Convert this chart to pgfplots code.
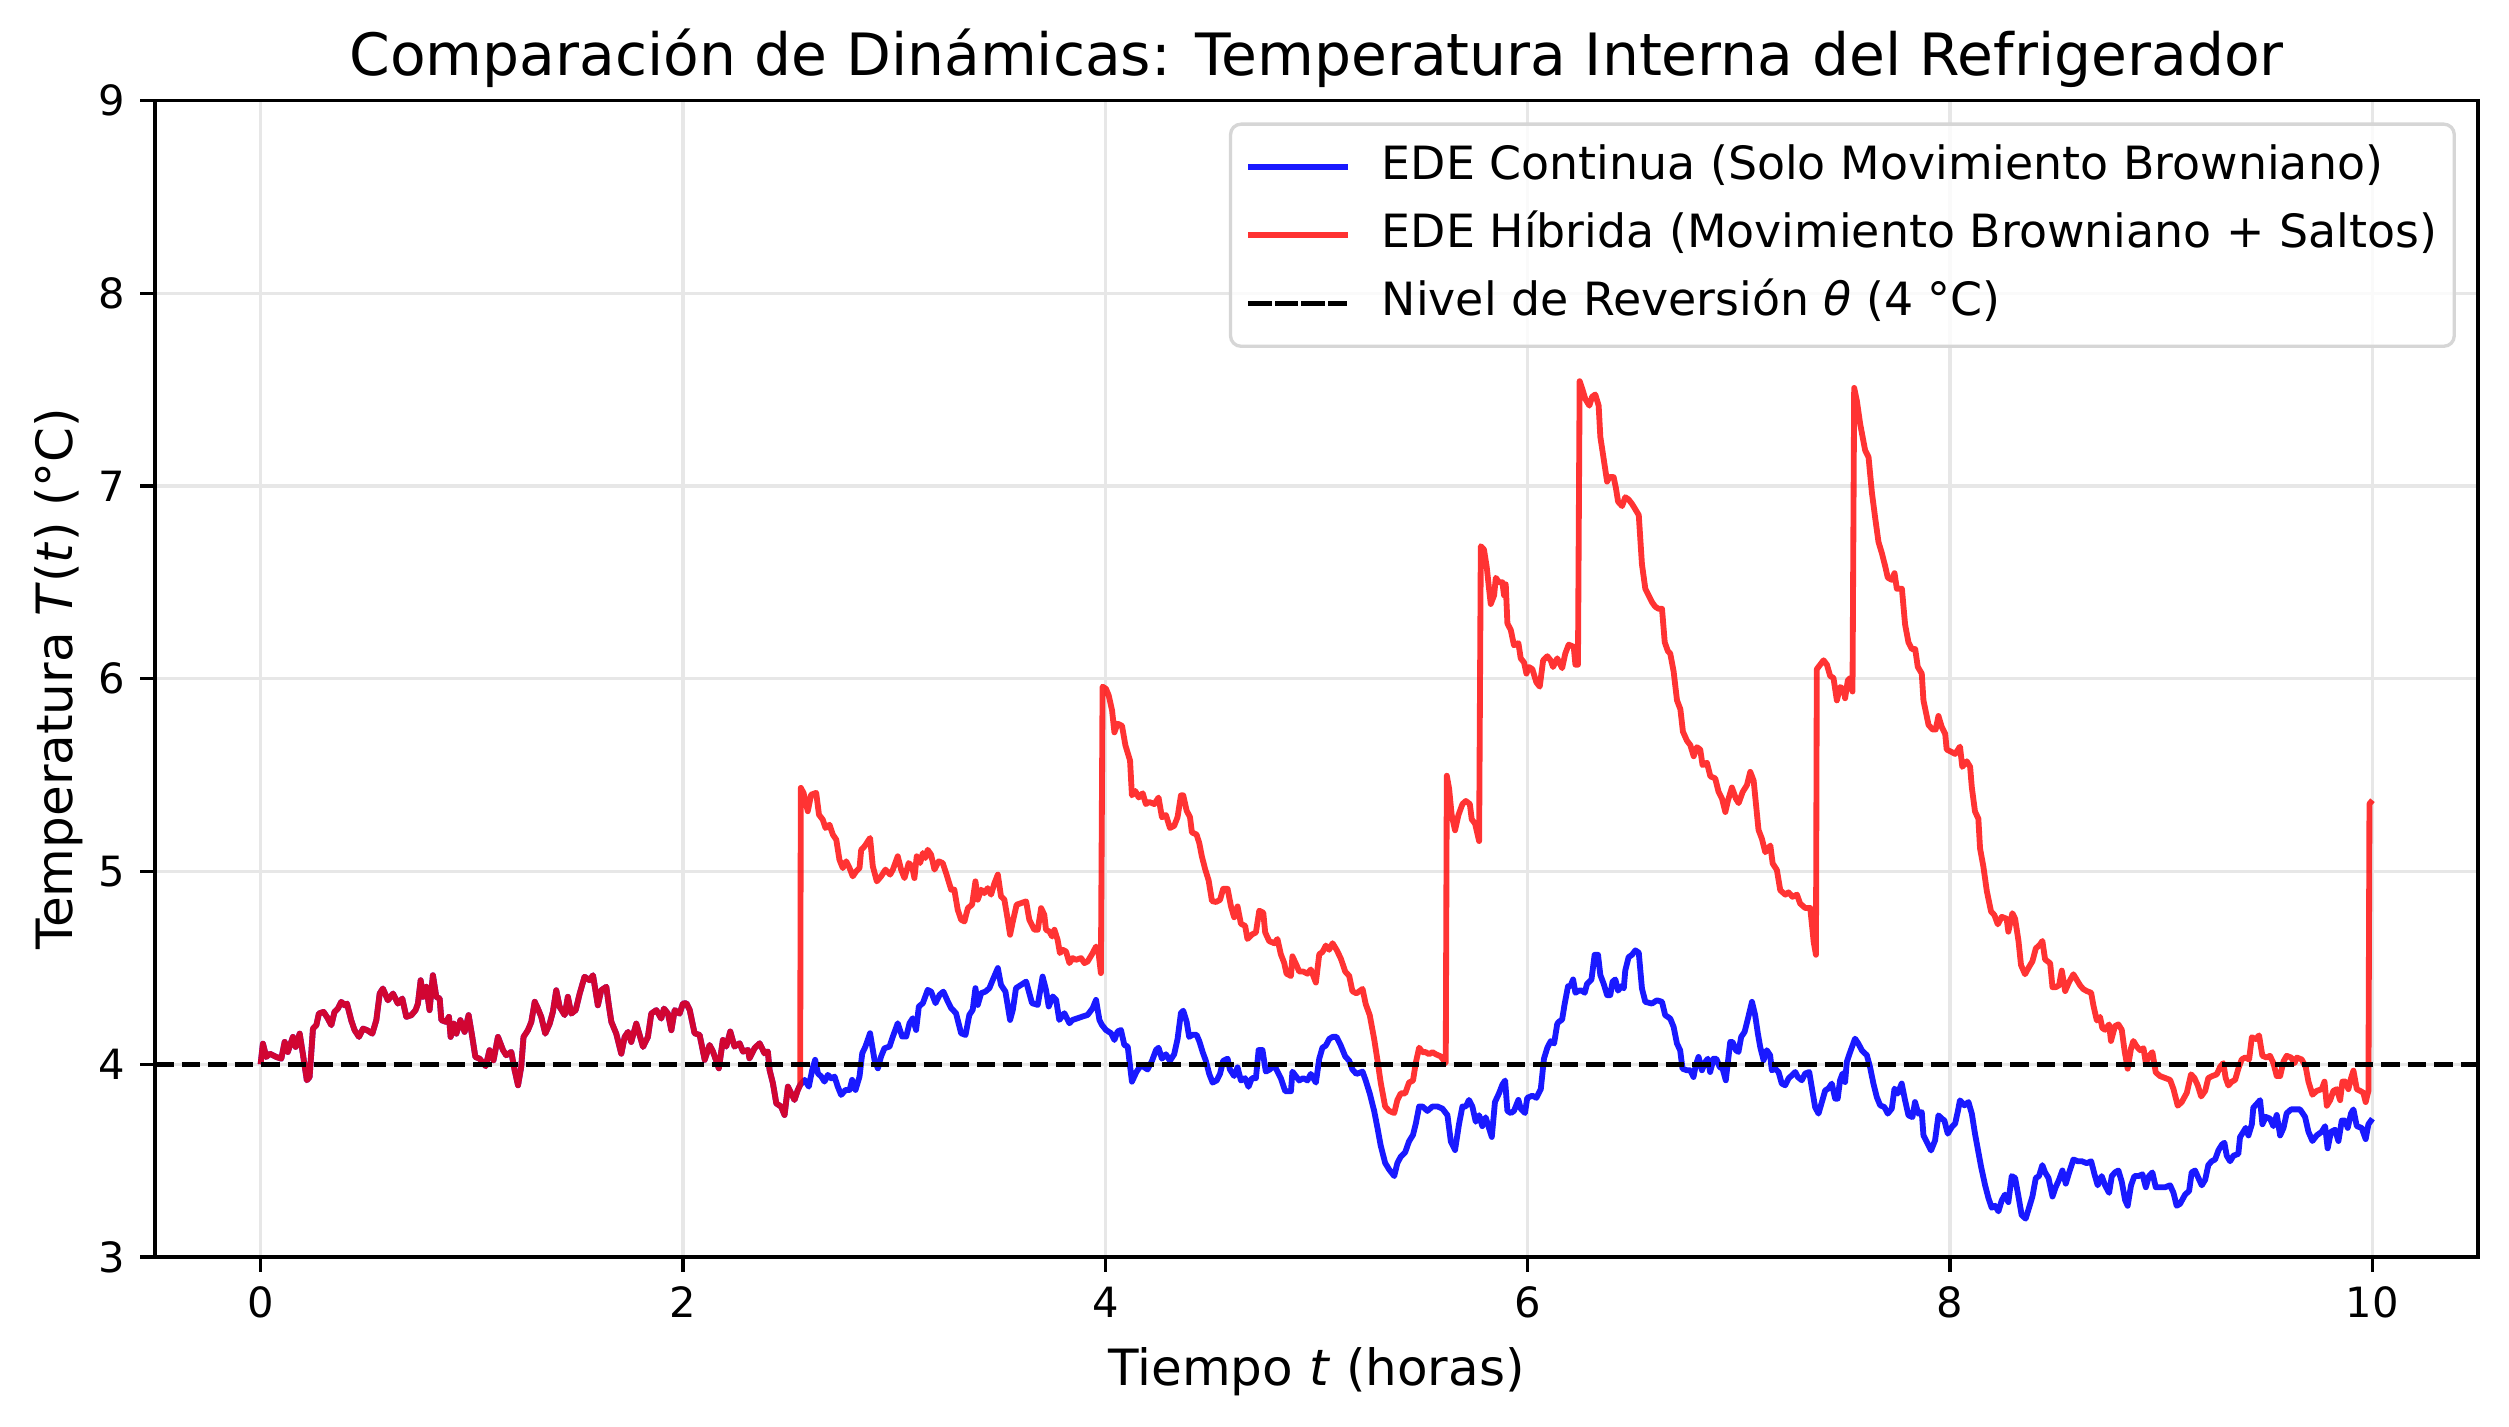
\documentclass[border=0pt]{standalone}
\usepackage{fontspec}
\setmainfont{DejaVu Sans}
\usepackage{pgfplots}
\pgfplotsset{compat=1.18}
\definecolor{gridc}{RGB}{231,231,231}
\definecolor{legedge}{RGB}{214,214,214}
\begin{document}
\begin{tikzpicture}
\begin{axis}[
  at={(0,0)}, anchor=south west,
  scale only axis, width=557.5pt, height=277.56pt,
  xmin=-0.5, xmax=10.5, ymin=3, ymax=9,
  xtick={0,2,4,6,8,10}, ytick={3,4,5,6,7,8,9},
  tick pos=left, tick align=outside, major tick length=3.5pt,
  every tick/.style={black, line width=0.8pt},
  axis line style={line width=0.8pt},
  grid=major, major grid style={gridc, line width=0.8pt},
  /pgf/number format/assume math mode=true,
  tick label style={font=\fontsize{10}{12}\selectfont},
  xticklabel style={anchor=north, inner sep=3.5pt},
  yticklabel style={anchor=east, inner sep=3.5pt},
  title={Comparación de Dinámicas: Temperatura Interna del Refrigerador},
  title style={font=\fontsize{14}{17}\selectfont, at={(axis description cs:0.5,1)}, anchor=base, inner sep=0pt},
  xlabel={Tiempo \textit{t} (horas)},
  xlabel style={font=\fontsize{12}{14}\selectfont, at={(axis description cs:0.5,0)}, anchor=north, inner sep=0pt, yshift=-21.5pt},
  ylabel={Temperatura \textit{T}(\textit{t}) (°C)},
  ylabel style={font=\fontsize{12}{14}\selectfont, at={(axis description cs:-0.0307,0.5)}, anchor=south, inner sep=0pt},
  legend cell align=left,
  legend image code/.code={\draw[#1, line cap=rect] (0pt,0pt) -- (22.5pt,0pt);},
  legend style={at={(0.9905,0.981)}, anchor=north east, draw=legedge, line width=0.8pt,
    rounded corners=2.5pt, fill=white, fill opacity=0.8, text opacity=1,
    font=\fontsize{11}{13}\selectfont, inner xsep=4.2pt, inner ysep=4.9pt,
    row sep=5.7pt, column sep=8.2pt,
    nodes={inner sep=0pt, text height=8.3pt, text depth=2.4pt}},
]
\addplot[color=blue, opacity=0.9, line width=1.4pt, line join=round] coordinates {
(0,4.000) (0.011,4.107) (0.027,4.038) (0.043,4.055) (0.074,4.038) (0.098,4.029) (0.114,4.116) (0.129,4.064) (0.153,4.142) (0.166,4.090) (0.185,4.159) (0.200,4.055) (0.219,3.917) (0.232,3.934) (0.248,4.185) (0.264,4.203) (0.276,4.263) (0.298,4.272) (0.314,4.246) (0.335,4.203) (0.350,4.272) (0.366,4.289) (0.382,4.324) (0.398,4.306) (0.409,4.315) (0.429,4.229) (0.445,4.177) (0.466,4.142) (0.485,4.185) (0.504,4.177) (0.529,4.159) (0.548,4.229) (0.564,4.367) (0.579,4.393) (0.603,4.332) (0.627,4.367) (0.650,4.315) (0.671,4.341) (0.690,4.246) (0.714,4.255) (0.734,4.281) (0.745,4.315) (0.758,4.436) (0.769,4.350) (0.785,4.402) (0.800,4.281) (0.816,4.462) (0.832,4.350) (0.848,4.341) (0.856,4.229) (0.879,4.220) (0.892,4.246) (0.900,4.142) (0.914,4.211) (0.927,4.159) (0.946,4.229) (0.966,4.168) (0.985,4.255) (1.001,4.151) (1.017,4.038) (1.037,4.029) (1.066,3.990) (1.084,4.073) (1.103,4.021) (1.124,4.142) (1.148,4.073) (1.163,4.047) (1.187,4.064) (1.203,3.969) (1.219,3.891) (1.234,3.986) (1.245,4.142) (1.266,4.177) (1.282,4.220) (1.298,4.324) (1.313,4.289) (1.329,4.246) (1.348,4.159) (1.369,4.211) (1.384,4.272) (1.400,4.384) (1.416,4.298) (1.440,4.255) (1.455,4.350) (1.471,4.263) (1.492,4.281) (1.511,4.367) (1.534,4.454) (1.558,4.436) (1.574,4.462) (1.597,4.306) (1.613,4.384) (1.637,4.402) (1.650,4.298) (1.661,4.220) (1.684,4.159) (1.708,4.055) (1.724,4.142) (1.740,4.168) (1.755,4.116) (1.779,4.211) (1.795,4.151) (1.811,4.090) (1.834,4.142) (1.850,4.263) (1.874,4.281) (1.897,4.237) (1.910,4.289) (1.929,4.263) (1.945,4.177) (1.961,4.281) (1.984,4.263) (2.000,4.315) (2.016,4.317) (2.032,4.282) (2.055,4.161) (2.079,4.152) (2.103,4.023) (2.126,4.100) (2.142,4.066) (2.170,3.979) (2.189,4.126) (2.205,4.092) (2.224,4.170) (2.244,4.092) (2.268,4.109) (2.284,4.066) (2.308,4.074) (2.315,4.031) (2.339,4.083) (2.363,4.109) (2.386,4.057) (2.402,4.066) (2.410,3.971) (2.426,3.901) (2.442,3.797) (2.465,3.780) (2.481,3.737) (2.497,3.884) (2.513,3.849) (2.528,3.815) (2.544,3.867) (2.555,3.893)
(2.576,3.919) (2.596,3.884) (2.612,3.971) (2.626,4.023) (2.639,3.953) (2.655,3.936) (2.670,3.910) (2.686,3.945) (2.702,3.927) (2.718,3.936) (2.733,3.884) (2.749,3.841) (2.770,3.867) (2.789,3.867) (2.801,3.919) (2.817,3.867) (2.836,3.936) (2.849,4.057) (2.864,4.092) (2.886,4.161) (2.907,4.023) (2.923,3.979) (2.938,4.040) (2.954,4.083) (2.978,4.092) (2.994,4.144) (3.017,4.213) (3.038,4.144) (3.057,4.144) (3.073,4.213) (3.088,4.239) (3.104,4.178) (3.117,4.300) (3.136,4.317) (3.159,4.386) (3.175,4.377) (3.196,4.317) (3.215,4.360) (3.233,4.377) (3.254,4.326) (3.270,4.291) (3.293,4.265) (3.317,4.161) (3.338,4.152) (3.356,4.256) (3.372,4.282) (3.385,4.395) (3.396,4.308) (3.412,4.369) (3.432,4.377) (3.451,4.395) (3.467,4.438) (3.491,4.499) (3.506,4.412) (3.527,4.377) (3.549,4.230) (3.562,4.282) (3.577,4.395) (3.601,4.412) (3.625,4.429) (3.640,4.369) (3.653,4.317) (3.680,4.308) (3.703,4.455) (3.719,4.386) (3.732,4.300) (3.751,4.352) (3.767,4.334) (3.782,4.230) (3.806,4.265) (3.830,4.213) (3.845,4.230) (3.869,4.239) (3.893,4.248) (3.916,4.256) (3.940,4.291) (3.956,4.334) (3.972,4.230) (3.984,4.204) (4.003,4.178) (4.027,4.161) (4.043,4.126) (4.058,4.170) (4.074,4.178) (4.090,4.100) (4.106,4.092) (4.126,3.910) (4.148,3.962) (4.169,3.995) (4.185,3.984) (4.200,3.973) (4.221,4.018) (4.240,4.074) (4.252,4.086) (4.268,4.029) (4.287,4.052) (4.306,4.018) (4.326,4.052) (4.342,4.131) (4.358,4.266) (4.369,4.278) (4.385,4.221) (4.397,4.142) (4.413,4.153) (4.432,4.153) (4.445,4.120) (4.461,4.063) (4.476,4.018) (4.492,3.950) (4.508,3.905) (4.527,3.916) (4.543,3.950) (4.558,4.018) (4.579,4.029) (4.590,3.973) (4.610,3.939) (4.626,3.984) (4.642,3.916) (4.662,3.928) (4.678,3.883) (4.694,3.928) (4.713,3.928) (4.726,4.074) (4.744,4.074) (4.760,3.962) (4.779,3.973) (4.800,3.995) (4.815,3.962) (4.831,3.928) (4.852,3.860) (4.879,3.860) (4.886,3.962) (4.902,3.939) (4.918,3.916) (4.937,3.928) (4.957,3.916) (4.973,3.950) (4.997,3.905) (5.013,4.029) (5.028,4.086) (5.044,4.097) (5.060,4.131) (5.076,4.142) (5.095,4.142) (5.115,4.097) (5.136,4.041) (5.155,4.018) (5.170,3.973) (5.189,3.950) (5.218,3.962) (5.233,3.916) (5.252,3.849) (5.273,3.758) (5.289,3.668) (5.304,3.578) (5.325,3.488) (5.344,3.454) (5.368,3.420) (5.383,3.488) (5.399,3.521) (5.420,3.544) (5.438,3.600) (5.457,3.634) (5.470,3.691) (5.486,3.781) (5.502,3.781) (5.525,3.758) (5.549,3.781) (5.573,3.781) (5.596,3.770) (5.620,3.736) (5.636,3.600) (5.656,3.555) (5.675,3.691) (5.691,3.781) (5.707,3.781) (5.722,3.815) (5.738,3.781) (5.754,3.702) (5.770,3.736) (5.785,3.679) (5.801,3.725) (5.817,3.668) (5.830,3.623) (5.845,3.804) (5.864,3.849) (5.880,3.894) (5.893,3.916) (5.904,3.758) (5.920,3.747) (5.935,3.758) (5.956,3.815) (5.967,3.770) (5.987,3.747) (5.998,3.826) (6.022,3.837) (6.041,3.826) (6.062,3.871) (6.077,4.029) (6.093,4.086) (6.109,4.120) (6.125,4.108) (6.140,4.210) (6.147,4.220) (6.163,4.232) (6.175,4.313) (6.191,4.405) (6.202,4.405) (6.215,4.440) (6.226,4.371) (6.242,4.382) (6.257,4.382) (6.270,4.371) (6.281,4.417) (6.302,4.440) (6.317,4.568) (6.333,4.568) (6.344,4.463) (6.360,4.417) (6.376,4.359) (6.391,4.359) (6.402,4.429) (6.415,4.440) (6.428,4.382) (6.443,4.405) (6.455,4.394) (6.462,4.486) (6.478,4.556) (6.494,4.568) (6.510,4.591) (6.526,4.579) (6.541,4.394) (6.557,4.324) (6.588,4.315) (6.612,4.332) (6.636,4.324) (6.651,4.255) (6.675,4.237) (6.691,4.194) (6.707,4.107) (6.722,4.073) (6.733,3.977) (6.754,3.969) (6.770,3.969) (6.785,3.934) (6.796,3.995) (6.809,4.038) (6.825,3.969) (6.841,4.012) (6.853,4.029) (6.864,3.960) (6.880,4.029) (6.893,4.029) (6.909,3.986) (6.923,3.977) (6.938,3.917) (6.948,4.012) (6.959,4.116) (6.970,4.116) (6.986,4.073) (6.998,4.064) (7.011,4.142) (7.027,4.168) (7.043,4.237) (7.062,4.324) (7.077,4.255) (7.090,4.159) (7.101,4.090) (7.117,4.021) (7.132,4.073) (7.148,4.047) (7.156,3.969) (7.172,3.977) (7.188,3.960) (7.203,3.900) (7.219,3.891) (7.235,3.926) (7.251,3.943) (7.267,3.960) (7.279,3.934) (7.298,3.917) (7.314,3.952) (7.333,3.960) (7.345,3.882) (7.361,3.778) (7.377,3.744) (7.393,3.804) (7.409,3.865) (7.424,3.874) (7.440,3.900) (7.456,3.822) (7.468,3.822) (7.479,3.917) (7.491,3.952) (7.503,3.908) (7.511,4.012) (7.527,4.064) (7.550,4.133) (7.566,4.107) (7.582,4.073) (7.606,4.047) (7.621,3.986) (7.637,3.900) (7.653,3.830) (7.669,3.787) (7.689,3.778) (7.705,3.744) (7.724,3.770) (7.737,3.874) (7.752,3.848) (7.771,3.900) (7.787,3.813) (7.803,3.735) (7.822,3.726) (7.834,3.804) (7.850,3.744) (7.866,3.752) (7.874,3.631) (7.894,3.588) (7.910,3.553) (7.929,3.605) (7.945,3.735) (7.961,3.718) (7.973,3.709) (7.989,3.640) (8.008,3.674) (8.024,3.692) (8.036,3.752) (8.047,3.813) (8.068,3.787) (8.087,3.804) (8.103,3.744) (8.118,3.640) (8.147,3.468) (8.166,3.372) (8.182,3.305) (8.197,3.256) (8.213,3.266) (8.229,3.237) (8.245,3.295) (8.260,3.324) (8.276,3.285) (8.292,3.420) (8.308,3.410) (8.324,3.314) (8.339,3.218) (8.358,3.199) (8.374,3.256) (8.390,3.314) (8.406,3.410) (8.421,3.420) (8.437,3.477) (8.450,3.439) (8.466,3.410) (8.485,3.314) (8.500,3.362) (8.516,3.401) (8.532,3.449) (8.548,3.381) (8.564,3.439) (8.584,3.506) (8.605,3.497) (8.624,3.497) (8.647,3.487) (8.668,3.497) (8.684,3.429) (8.699,3.372) (8.718,3.420) (8.734,3.372) (8.753,3.333) (8.766,3.420) (8.781,3.439) (8.797,3.449) (8.813,3.391) (8.829,3.295) (8.841,3.266) (8.857,3.372) (8.873,3.420) (8.892,3.420) (8.911,3.429) (8.927,3.362) (8.942,3.420) (8.958,3.439) (8.974,3.362) (8.994,3.362) (9.018,3.362) (9.042,3.372) (9.058,3.333) (9.073,3.266) (9.089,3.276) (9.113,3.324) (9.132,3.343) (9.144,3.439) (9.160,3.449) (9.176,3.410) (9.192,3.372) (9.208,3.401) (9.223,3.477) (9.239,3.497) (9.255,3.506) (9.271,3.554) (9.287,3.583) (9.299,3.593) (9.310,3.526) (9.326,3.497) (9.342,3.526) (9.365,3.535) (9.373,3.622) (9.389,3.650) (9.400,3.670) (9.413,3.631) (9.429,3.689) (9.436,3.775) (9.452,3.794) (9.468,3.814) (9.479,3.689) (9.495,3.727) (9.515,3.718) (9.531,3.679) (9.547,3.737) (9.563,3.631) (9.579,3.670) (9.594,3.746) (9.615,3.766) (9.634,3.766) (9.657,3.766) (9.681,3.727) (9.697,3.650) (9.716,3.602) (9.736,3.631) (9.760,3.650) (9.776,3.679) (9.788,3.564) (9.804,3.650) (9.823,3.660) (9.839,3.602) (9.855,3.708) (9.871,3.708) (9.883,3.670) (9.899,3.746) (9.910,3.766) (9.926,3.679) (9.949,3.670) (9.968,3.612) (9.981,3.689) (10.000,3.718)
};
\addlegendentry{EDE Continua (Solo Movimiento Browniano)}
\addplot[color=red, opacity=0.8, line width=1.4pt, line join=round] coordinates {
(0,4.000) (0.011,4.107) (0.027,4.038) (0.043,4.055) (0.074,4.038) (0.098,4.029) (0.114,4.116) (0.129,4.064) (0.153,4.142) (0.166,4.090) (0.185,4.159) (0.200,4.055) (0.219,3.917) (0.232,3.934) (0.248,4.185) (0.264,4.203) (0.276,4.263) (0.298,4.272) (0.314,4.246) (0.335,4.203) (0.350,4.272) (0.366,4.289) (0.382,4.324) (0.398,4.306) (0.409,4.315) (0.429,4.229) (0.445,4.177) (0.466,4.142) (0.485,4.185) (0.504,4.177) (0.529,4.159) (0.548,4.229) (0.564,4.367) (0.579,4.393) (0.603,4.332) (0.627,4.367) (0.650,4.315) (0.671,4.341) (0.690,4.246) (0.714,4.255) (0.734,4.281) (0.745,4.315) (0.758,4.436) (0.769,4.350) (0.785,4.402) (0.800,4.281) (0.816,4.462) (0.832,4.350) (0.848,4.341) (0.856,4.229) (0.879,4.220) (0.892,4.246) (0.900,4.142) (0.914,4.211) (0.927,4.159) (0.946,4.229) (0.966,4.168) (0.985,4.255) (1.001,4.151) (1.017,4.038) (1.037,4.029) (1.066,3.990) (1.084,4.073) (1.103,4.021) (1.124,4.142) (1.148,4.073) (1.163,4.047) (1.187,4.064) (1.203,3.969) (1.219,3.891) (1.234,3.986) (1.245,4.142) (1.266,4.177) (1.282,4.220) (1.298,4.324) (1.313,4.289) (1.329,4.246) (1.348,4.159) (1.369,4.211) (1.384,4.272) (1.400,4.384) (1.416,4.298) (1.440,4.255) (1.455,4.350) (1.471,4.263) (1.492,4.281) (1.511,4.367) (1.534,4.454) (1.558,4.436) (1.574,4.462) (1.597,4.306) (1.613,4.384) (1.637,4.402) (1.650,4.298) (1.661,4.220) (1.684,4.159) (1.708,4.055) (1.724,4.142) (1.740,4.168) (1.755,4.116) (1.779,4.211) (1.795,4.151) (1.811,4.090) (1.834,4.142) (1.850,4.263) (1.874,4.281) (1.897,4.237) (1.910,4.289) (1.929,4.263) (1.945,4.177) (1.961,4.281) (1.984,4.263) (2.000,4.315) (2.016,4.317) (2.032,4.282) (2.055,4.161) (2.079,4.152) (2.103,4.023) (2.126,4.100) (2.142,4.066) (2.170,3.979) (2.189,4.126) (2.205,4.092) (2.224,4.170) (2.244,4.092) (2.268,4.109) (2.284,4.066) (2.308,4.074) (2.315,4.031) (2.339,4.083) (2.363,4.109) (2.386,4.057) (2.402,4.066) (2.410,3.971) (2.426,3.901) (2.442,3.797) (2.465,3.780) (2.481,3.737) (2.497,3.884) (2.513,3.849) (2.528,3.815) (2.544,3.867) (2.555,3.893)
(2.558,5.434) (2.571,5.408) (2.591,5.313) (2.607,5.399) (2.631,5.408) (2.644,5.295) (2.662,5.269) (2.675,5.226) (2.694,5.243) (2.710,5.191) (2.726,5.165) (2.741,5.061) (2.757,5.018) (2.773,5.053) (2.789,5.018) (2.804,4.975) (2.820,5.001) (2.836,5.018) (2.844,5.113) (2.860,5.131) (2.886,5.174) (2.899,5.027) (2.918,4.949) (2.938,4.975) (2.959,5.010) (2.981,4.984) (2.994,5.010) (3.017,5.079) (3.033,5.010) (3.049,4.966) (3.069,5.044) (3.085,5.027) (3.096,4.966) (3.107,5.079) (3.123,5.044) (3.136,5.096) (3.148,5.070) (3.159,5.113) (3.175,5.087) (3.191,5.010) (3.211,5.053) (3.230,5.044) (3.246,4.992) (3.270,4.906) (3.285,4.906) (3.301,4.802) (3.317,4.750) (3.333,4.741) (3.349,4.810) (3.369,4.828) (3.385,4.949) (3.396,4.854) (3.412,4.906) (3.427,4.888) (3.443,4.914) (3.459,4.880) (3.475,4.940) (3.491,4.984) (3.506,4.871) (3.522,4.854) (3.538,4.750) (3.549,4.672) (3.562,4.741) (3.580,4.828) (3.601,4.836) (3.625,4.845) (3.640,4.750) (3.664,4.698) (3.680,4.698) (3.696,4.810) (3.711,4.776) (3.719,4.698) (3.735,4.689) (3.748,4.663) (3.759,4.698) (3.774,4.646) (3.785,4.577) (3.798,4.594) (3.814,4.585) (3.830,4.525) (3.845,4.551) (3.861,4.542) (3.885,4.551) (3.901,4.525) (3.916,4.533) (3.940,4.577) (3.956,4.611) (3.968,4.577) (3.979,4.473)
(3.987,5.959) (4.003,5.948) (4.016,5.914) (4.032,5.835) (4.043,5.722) (4.058,5.767) (4.079,5.756) (4.095,5.655) (4.117,5.576) (4.126,5.395) (4.142,5.418) (4.158,5.384) (4.177,5.406) (4.192,5.350) (4.208,5.361) (4.232,5.350) (4.252,5.384) (4.268,5.282) (4.287,5.293) (4.306,5.226) (4.326,5.237) (4.342,5.282) (4.358,5.395) (4.369,5.395) (4.385,5.316) (4.401,5.282) (4.410,5.203) (4.432,5.192) (4.445,5.147) (4.457,5.079) (4.473,5.011) (4.489,4.955) (4.505,4.847) (4.524,4.842) (4.543,4.853) (4.558,4.910) (4.579,4.910) (4.595,4.819) (4.610,4.763) (4.626,4.819) (4.642,4.729) (4.662,4.718) (4.673,4.650) (4.694,4.673) (4.713,4.684) (4.729,4.797) (4.748,4.786) (4.757,4.684) (4.776,4.639) (4.800,4.628) (4.815,4.650) (4.831,4.571) (4.847,4.526) (4.858,4.470) (4.879,4.458) (4.886,4.560) (4.905,4.515) (4.918,4.481) (4.937,4.481) (4.957,4.470) (4.973,4.492) (4.997,4.424) (5.013,4.571) (5.028,4.582) (5.044,4.616) (5.060,4.594) (5.076,4.628) (5.095,4.594) (5.115,4.549) (5.136,4.481) (5.155,4.458) (5.170,4.379) (5.189,4.368) (5.218,4.391) (5.233,4.312) (5.252,4.255) (5.273,4.131) (5.289,4.018) (5.304,3.905) (5.325,3.781) (5.344,3.758) (5.368,3.747) (5.383,3.815) (5.399,3.849) (5.420,3.849) (5.438,3.905) (5.457,3.916) (5.470,4.007) (5.486,4.086) (5.502,4.063) (5.517,4.063) (5.533,4.052) (5.549,4.063) (5.565,4.052) (5.588,4.041) (5.612,4.007)
(5.617,5.497) (5.628,5.429) (5.640,5.293) (5.656,5.214) (5.672,5.293) (5.691,5.350) (5.707,5.366) (5.726,5.350) (5.735,5.271) (5.751,5.248) (5.770,5.158)
(5.778,6.688) (5.793,6.670) (5.806,6.580) (5.817,6.467) (5.825,6.388) (5.841,6.433) (5.849,6.524) (5.864,6.501) (5.880,6.501) (5.888,6.433) (5.896,6.490) (5.904,6.287) (5.920,6.253) (5.935,6.174) (5.956,6.185) (5.967,6.106) (5.983,6.084) (5.994,6.027) (6.006,6.061) (6.022,6.050) (6.041,5.982) (6.057,5.959) (6.073,6.095) (6.093,6.117) (6.109,6.095) (6.120,6.061) (6.140,6.106) (6.163,6.055) (6.178,6.131) (6.194,6.177) (6.218,6.166) (6.226,6.073) (6.238,6.073)
(6.246,7.544) (6.257,7.509) (6.273,7.451) (6.292,7.417) (6.305,7.463) (6.320,7.475) (6.336,7.417) (6.344,7.255) (6.360,7.139) (6.376,7.023) (6.387,7.046) (6.407,7.046) (6.418,6.988) (6.428,6.919) (6.447,6.896) (6.462,6.942) (6.478,6.930) (6.494,6.907) (6.507,6.884) (6.526,6.849) (6.541,6.594) (6.557,6.467) (6.573,6.432) (6.589,6.397) (6.604,6.374) (6.620,6.363) (6.636,6.363) (6.649,6.189) (6.664,6.143) (6.675,6.131) (6.691,6.038) (6.707,5.888) (6.723,5.842) (6.735,5.726) (6.754,5.679) (6.770,5.656) (6.786,5.598) (6.801,5.645) (6.817,5.633) (6.828,5.552) (6.849,5.564) (6.865,5.494) (6.888,5.483) (6.904,5.413) (6.920,5.378) (6.936,5.309) (6.948,5.367) (6.967,5.436) (6.986,5.378) (6.999,5.355) (7.018,5.413) (7.038,5.448) (7.054,5.517) (7.070,5.471) (7.093,5.216) (7.109,5.170) (7.125,5.100) (7.149,5.135) (7.160,5.042) (7.180,5.008) (7.196,4.903) (7.220,4.880) (7.235,4.892) (7.254,4.869) (7.275,4.880) (7.290,4.834) (7.314,4.811) (7.338,4.811) (7.354,4.637) (7.365,4.568)
(7.369,6.050) (7.385,6.073) (7.401,6.096) (7.417,6.073) (7.432,6.015) (7.448,6.004) (7.464,5.888) (7.480,5.957) (7.496,5.946) (7.503,5.899) (7.516,5.992) (7.527,6.004) (7.538,5.934)
(7.546,7.509) (7.559,7.440) (7.574,7.324) (7.590,7.231) (7.598,7.185) (7.614,7.150) (7.630,6.965) (7.645,6.838) (7.661,6.710) (7.677,6.652) (7.693,6.583) (7.705,6.525) (7.724,6.513) (7.737,6.548) (7.748,6.467) (7.772,6.467) (7.787,6.282) (7.803,6.189) (7.819,6.154) (7.835,6.154) (7.847,6.062) (7.866,6.027) (7.874,5.888) (7.898,5.761) (7.917,5.737) (7.932,5.737) (7.945,5.807) (7.961,5.749) (7.977,5.714) (7.984,5.633) (8.008,5.620) (8.024,5.610) (8.047,5.648) (8.058,5.543) (8.079,5.572) (8.095,5.543) (8.103,5.437) (8.118,5.312) (8.134,5.274) (8.142,5.120) (8.158,5.024) (8.174,4.899) (8.194,4.793) (8.210,4.774) (8.226,4.726) (8.245,4.765) (8.268,4.755) (8.276,4.688) (8.295,4.784) (8.308,4.755) (8.324,4.640) (8.336,4.515) (8.355,4.467) (8.374,4.505) (8.390,4.534) (8.406,4.601) (8.426,4.621) (8.437,4.640) (8.450,4.544) (8.474,4.524) (8.485,4.400) (8.500,4.400) (8.516,4.409) (8.529,4.486) (8.545,4.380) (8.564,4.428) (8.584,4.467) (8.600,4.438) (8.616,4.409) (8.631,4.390) (8.647,4.380) (8.668,4.371) (8.679,4.304) (8.695,4.227) (8.710,4.246) (8.721,4.188) (8.734,4.179) (8.753,4.207) (8.762,4.121) (8.781,4.198) (8.797,4.207) (8.813,4.179) (8.826,4.073) (8.841,3.977) (8.857,4.083) (8.868,4.121) (8.884,4.092) (8.900,4.073) (8.916,4.083) (8.927,4.006) (8.942,4.044) (8.958,4.063) (8.974,3.958) (8.994,3.939) (9.018,3.929) (9.042,3.919) (9.058,3.871) (9.078,3.785) (9.097,3.804) (9.121,3.852) (9.141,3.948) (9.157,3.929) (9.173,3.890) (9.189,3.833) (9.208,3.862) (9.223,3.929) (9.242,3.939) (9.263,3.948) (9.279,3.987) (9.294,4.006) (9.305,3.929) (9.318,3.890) (9.334,3.910) (9.350,3.919) (9.365,3.977) (9.381,4.025) (9.397,4.035) (9.416,4.025) (9.429,4.140) (9.448,4.131) (9.463,4.150) (9.479,4.044) (9.500,4.035) (9.515,4.044) (9.531,4.006) (9.547,3.939) (9.563,3.939) (9.579,4.015) (9.594,4.044) (9.615,4.035) (9.631,4.006) (9.642,4.035) (9.665,4.025) (9.684,3.987) (9.697,3.910) (9.716,3.842) (9.736,3.862) (9.760,3.871) (9.773,3.910) (9.784,3.785) (9.800,3.814) (9.815,3.862) (9.831,3.871) (9.847,3.814) (9.858,3.910) (9.874,3.910) (9.886,3.871) (9.899,3.929) (9.910,3.967) (9.926,3.871) (9.942,3.862) (9.957,3.852) (9.968,3.804) (9.981,3.862)
(9.986,5.351) (10.000,5.370)
};
\addlegendentry{EDE Híbrida (Movimiento Browniano + Saltos)}
\addplot[color=black, line width=1.2pt, dash pattern=on 4.44pt off 1.92pt] coordinates {(-0.5,4) (10.5,4)};
\addlegendentry{Nivel de Reversión \textit{θ} (4 °C)}
\end{axis}
\pgfresetboundingbox
\path (-37.2pt,-40.56pt) rectangle (564.94pt,301.68pt);
\end{tikzpicture}
\end{document}
